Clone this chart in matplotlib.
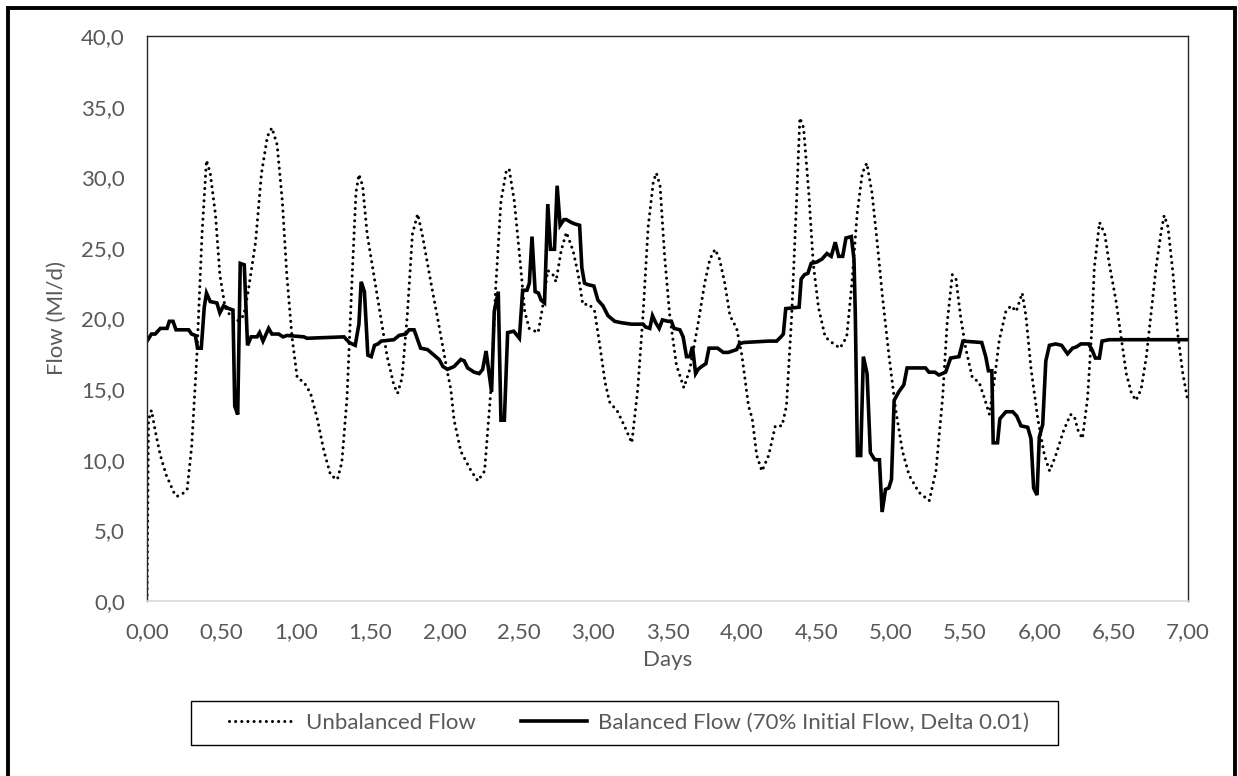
import matplotlib
matplotlib.use("Agg")
import matplotlib.pyplot as plt
from matplotlib.patches import Rectangle
from matplotlib.ticker import FuncFormatter, MultipleLocator

plt.rcParams['font.family'] = ['Lato', 'DejaVu Sans']

# Unbalanced flow (dotted) - days / Ml/d
unbal_days = [0.00, 0.01, 0.03, 0.06, 0.09, 0.13, 0.18, 0.20, 0.24, 0.27,
              0.30, 0.335, 0.37, 0.40, 0.425, 0.46, 0.49, 0.525, 0.56, 0.605,
              0.65, 0.68, 0.73, 0.77, 0.81, 0.84, 0.875, 0.91, 0.94, 0.975,
              1.01, 1.055, 1.10, 1.145, 1.19, 1.235, 1.28, 1.31, 1.345, 1.38,
              1.405, 1.425, 1.45, 1.48, 1.525, 1.57, 1.615, 1.66, 1.685, 1.715,
              1.75, 1.785, 1.82, 1.85, 1.91, 1.965, 2.02, 2.043, 2.065, 2.11,
              2.18, 2.225, 2.27, 2.315, 2.345, 2.38, 2.415, 2.435, 2.47, 2.505,
              2.54, 2.57, 2.63, 2.66, 2.695, 2.73, 2.75, 2.785, 2.82, 2.865,
              2.90, 2.93, 2.975, 3.01, 3.045, 3.08, 3.11, 3.165, 3.21, 3.26,
              3.30, 3.335, 3.37, 3.405, 3.425, 3.45, 3.48, 3.515, 3.56, 3.61,
              3.65, 3.705, 3.75, 3.785, 3.82, 3.85, 3.885, 3.92, 3.965, 4.00,
              4.045, 4.07, 4.10, 4.135, 4.18, 4.225, 4.27, 4.30, 4.335, 4.37,
              4.39, 4.415, 4.45, 4.48, 4.515, 4.56, 4.605, 4.66, 4.705, 4.74,
              4.775, 4.81, 4.84, 4.875, 4.91, 4.945, 4.99, 5.035, 5.08, 5.125,
              5.19, 5.26, 5.305, 5.35, 5.38, 5.415, 5.44, 5.47, 5.505, 5.55,
              5.595, 5.63, 5.665, 5.70, 5.73, 5.775, 5.81, 5.845, 5.885, 5.91,
              5.945, 5.99, 6.035, 6.07, 6.11, 6.165, 6.21, 6.235, 6.26, 6.29,
              6.325, 6.35, 6.37, 6.405, 6.44, 6.47, 6.515, 6.55, 6.585, 6.62,
              6.65, 6.685, 6.72, 6.75, 6.785, 6.82, 6.84, 6.865, 6.90, 6.93,
              6.965, 7.00]
unbal_flow = [0.0, 12.8, 13.5, 11.8, 10.3, 8.9, 7.7, 7.4, 7.6, 7.9,
              10.9, 17.3, 26.0, 31.2, 30.3, 27.4, 23.1, 20.8, 20.2, 19.8,
              20.2, 21.9, 25.4, 30.3, 32.9, 33.5, 32.3, 28.3, 23.1, 18.7,
              15.8, 15.5, 14.7, 12.9, 10.6, 8.9, 8.6, 9.8, 14.4, 23.1,
              28.9, 30.2, 29.4, 26.0, 23.1, 20.2, 17.3, 15.3, 14.7, 15.8,
              20.2, 26.0, 27.4, 26.0, 22.5, 19.4, 16.2, 15.0, 12.8, 10.6,
              9.2, 8.5, 9.2, 15.3, 22.2, 28.3, 30.4, 30.6, 28.3, 24.5,
              20.5, 19.3, 19.0, 20.8, 23.4, 23.1, 22.6, 24.8, 26.1, 24.8,
              23.1, 21.0, 21.0, 20.5, 18.1, 15.5, 14.1, 13.4, 12.4, 11.2,
              15.0, 20.2, 26.5, 29.7, 30.3, 29.4, 24.5, 20.2, 16.7, 15.1,
              16.4, 19.6, 22.5, 24.2, 24.9, 24.2, 22.5, 20.2, 19.3, 17.4,
              13.8, 12.9, 10.3, 9.2, 10.3, 12.4, 12.4, 13.8, 20.2, 28.9,
              34.2, 33.5, 28.9, 23.9, 20.8, 18.7, 18.3, 17.9, 18.7, 22.5,
              27.4, 30.3, 31.0, 28.9, 25.4, 21.6, 17.3, 13.5, 10.6, 8.9,
              7.7, 7.1, 9.2, 14.4, 19.6, 23.1, 22.8, 20.2, 17.9, 15.8,
              15.5, 14.4, 13.2, 15.8, 18.4, 20.5, 20.9, 20.5, 21.8, 20.2,
              16.4, 12.9, 10.3, 9.2, 10.3, 12.1, 13.2, 13.1, 12.1, 11.5,
              14.4, 18.7, 23.6, 26.8, 26.0, 23.9, 21.3, 18.7, 16.1, 14.7,
              14.2, 15.0, 17.3, 20.2, 23.6, 26.2, 27.3, 26.5, 23.1, 19.0,
              16.1, 14.1]

# Balanced flow (solid)
bal_days = [0.00, 0.03, 0.055, 0.09, 0.135, 0.15, 0.175, 0.195, 0.28, 0.30,
            0.325, 0.34, 0.365, 0.385, 0.40, 0.425, 0.47, 0.49, 0.515, 0.55,
            0.578, 0.59, 0.61, 0.627, 0.654, 0.676, 0.70, 0.74, 0.757, 0.78,
            0.818, 0.84, 0.885, 0.915, 0.942, 1.055, 1.075, 1.325, 1.36, 1.40,
            1.425, 1.44, 1.462, 1.485, 1.508, 1.53, 1.553, 1.575, 1.66, 1.695,
            1.74, 1.762, 1.796, 1.84, 1.886, 1.93, 1.964, 1.99, 2.02, 2.065,
            2.11, 2.133, 2.156, 2.20, 2.234, 2.257, 2.28, 2.317, 2.335, 2.362,
            2.38, 2.403, 2.425, 2.466, 2.504, 2.526, 2.555, 2.571, 2.589, 2.61,
            2.632, 2.65, 2.673, 2.695, 2.713, 2.74, 2.758, 2.778, 2.803, 2.82,
            2.853, 2.875, 2.909, 2.924, 2.942, 2.964, 3.005, 3.032, 3.066, 3.10,
            3.145, 3.19, 3.257, 3.336, 3.352, 3.381, 3.399, 3.421, 3.444, 3.466,
            3.504, 3.526, 3.544, 3.583, 3.605, 3.628, 3.65, 3.668, 3.689, 3.706,
            3.729, 3.758, 3.779, 3.837, 3.875, 3.909, 3.965, 3.983, 4.01, 4.18,
            4.234, 4.263, 4.279, 4.295, 4.385, 4.399, 4.421, 4.444, 4.466, 4.504,
            4.538, 4.572, 4.601, 4.628, 4.651, 4.678, 4.70, 4.736, 4.754, 4.763,
            4.777, 4.799, 4.817, 4.842, 4.864, 4.894, 4.925, 4.943, 4.966, 4.988,
            5.006, 5.024, 5.055, 5.089, 5.111, 5.235, 5.258, 5.298, 5.325, 5.37,
            5.404, 5.46, 5.487, 5.613, 5.64, 5.658, 5.681, 5.69, 5.719, 5.735,
            5.776, 5.821, 5.848, 5.877, 5.922, 5.944, 5.962, 5.985, 6.00, 6.023,
            6.044, 6.068, 6.11, 6.15, 6.19, 6.224, 6.251, 6.28, 6.332, 6.354,
            6.377, 6.404, 6.422, 6.471, 7.00]
bal_flow = [18.4, 18.9, 18.9, 19.3, 19.3, 19.8, 19.8, 19.2, 19.2, 18.9,
            18.8, 17.9, 17.9, 20.8, 21.8, 21.2, 21.1, 20.4, 20.9, 20.7,
            20.6, 13.8, 13.2, 23.9, 23.8, 18.1, 18.7, 18.7, 19.0, 18.4,
            19.3, 18.9, 18.9, 18.7, 18.8, 18.7, 18.6, 18.7, 18.3, 18.1,
            19.6, 22.6, 21.9, 17.4, 17.3, 18.1, 18.2, 18.4, 18.5, 18.8,
            18.9, 19.2, 19.2, 17.9, 17.8, 17.4, 17.1, 16.6, 16.4, 16.6,
            17.1, 17.0, 16.5, 16.2, 16.1, 16.4, 17.7, 14.8, 20.5, 21.9,
            12.8, 12.8, 19.0, 19.1, 18.6, 22.0, 22.0, 22.5, 25.8, 21.9,
            21.8, 21.3, 21.1, 28.1, 24.9, 24.9, 29.4, 26.6, 27.0, 27.0,
            26.8, 26.7, 26.6, 23.6, 22.5, 22.4, 22.3, 21.3, 20.9, 20.2,
            19.8, 19.7, 19.6, 19.6, 19.4, 19.3, 20.2, 19.7, 19.3, 19.9,
            19.8, 19.8, 19.3, 19.2, 18.7, 17.3, 17.3, 18.0, 16.1, 16.4,
            16.6, 16.8, 17.9, 17.9, 17.6, 17.6, 17.8, 18.2, 18.3, 18.4,
            18.4, 18.7, 18.9, 20.7, 20.8, 22.8, 23.1, 23.2, 23.9, 24.0,
            24.2, 24.6, 24.4, 25.4, 24.4, 24.4, 25.7, 25.8, 24.2, 20.2,
            10.3, 10.3, 17.3, 16.1, 10.5, 10.0, 10.0, 6.3, 7.9, 8.0,
            8.6, 14.2, 14.8, 15.3, 16.5, 16.5, 16.2, 16.2, 16.0, 16.2,
            17.2, 17.3, 18.4, 18.3, 17.3, 16.3, 16.3, 11.2, 11.2, 12.9,
            13.4, 13.4, 13.1, 12.4, 12.3, 11.5, 8.0, 7.5, 11.6, 12.5,
            17.0, 18.1, 18.2, 18.1, 17.5, 17.9, 18.0, 18.2, 18.2, 17.8,
            17.2, 17.2, 18.4, 18.5, 18.5]

W, H = 1238, 776
fs = 16
grey = '#595959'

fig = plt.figure(figsize=(W / 100, H / 100), dpi=100)
ax = fig.add_axes([147 / W, 1 - 601 / H, (1188 - 147) / W, (601 - 36) / H])

ax.plot(unbal_days, unbal_flow, color='black', lw=2.2,
        linestyle=(0, (0.01, 2.0)), dash_capstyle='round',
        label='Unbalanced Flow')
ax.plot(bal_days, bal_flow, color='black', lw=2.6,
        solid_joinstyle='miter', label='Balanced Flow (70% Initial Flow, Delta 0.01)')

ax.set_xlim(0, 7)
ax.set_ylim(0, 40)
ax.xaxis.set_major_locator(MultipleLocator(0.5))
ax.yaxis.set_major_locator(MultipleLocator(5))
ax.xaxis.set_major_formatter(FuncFormatter(lambda v, p: f"{v:.2f}".replace('.', ',')))
ax.yaxis.set_major_formatter(FuncFormatter(lambda v, p: f"{v:.1f}".replace('.', ',')))

ax.tick_params(axis='both', length=0, labelsize=fs, labelcolor=grey)
ax.tick_params(axis='y', pad=16)
ax.tick_params(axis='x', pad=15)

for side in ['left', 'top', 'right']:
    ax.spines[side].set_color('#262626')
    ax.spines[side].set_linewidth(1.0)
ax.spines['bottom'].set_color('#d9d9d9')
ax.spines['bottom'].set_linewidth(1.2)

fig.text(57 / W, 1 - 318 / H, 'Flow (Ml/d)', rotation=90, ha='center',
         va='center', fontsize=fs, color=grey)
fig.text(668 / W, 1 - 660 / H, 'Days', ha='center', va='center',
         fontsize=fs, color=grey)

# legend box drawn separately so its padding can match the original
fig.add_artist(Rectangle((191 / W, 1 - 745 / H), (1058 - 191) / W, 44 / H,
                         transform=fig.transFigure, fill=False,
                         edgecolor='black', linewidth=1.0))
leg = fig.legend(loc='center', bbox_to_anchor=(629 / W, 1 - 723 / H),
                 ncol=2, fontsize=fs, frameon=False,
                 handlelength=3.0, handletextpad=0.5, columnspacing=2.0,
                 borderpad=0, borderaxespad=0)
for t in leg.get_texts():
    t.set_color(grey)

# outer chart border
fig.add_artist(Rectangle((8 / W, -0.05), (1235 - 8) / W, 1.05 - 8 / H,
                         transform=fig.transFigure, fill=False,
                         edgecolor='black', linewidth=2.8))

fig.savefig('out.png', dpi=100)
